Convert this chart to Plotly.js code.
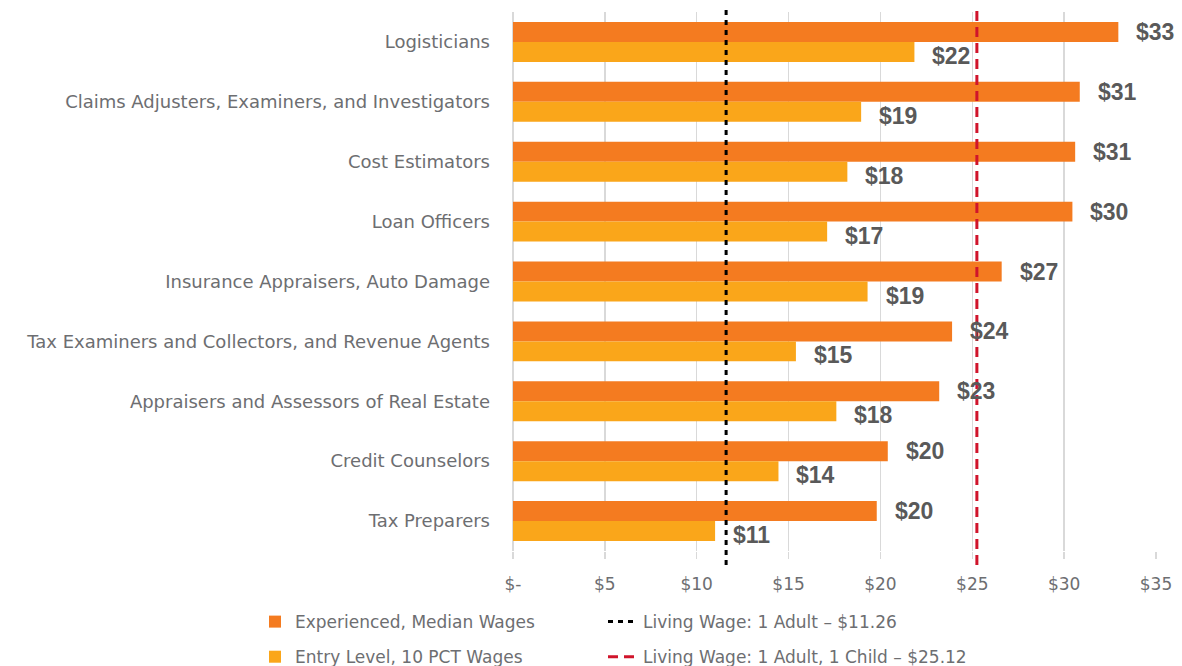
<!DOCTYPE html>
<html><head><meta charset="utf-8">
<script src="https://cdn.plot.ly/plotly-3.0.1.min.js"></script>
<style>html,body{margin:0;padding:0;background:#fff}#chart{width:1182px;height:666px}</style>
</head><body><div id="chart"></div>
<script>
const categories = [
  "Logisticians",
  "Claims Adjusters, Examiners, and Investigators",
  "Cost Estimators",
  "Loan Officers",
  "Insurance Appraisers, Auto Damage",
  "Tax Examiners and Collectors, and Revenue Agents",
  "Appraisers and Assessors of Real Estate",
  "Credit Counselors",
  "Tax Preparers"
];
const experienced = [32.95, 30.85, 30.6, 30.45, 26.6, 23.9, 23.2, 20.4, 19.8];
const entryLevel  = [21.85, 18.95, 18.2, 17.1, 19.3, 15.4, 17.6, 14.45, 11.0];
const seriesNames = ["Experienced, Median Wages", "Entry Level, 10 PCT Wages"];
const xTickVals = [0, 5, 10, 15, 20, 25, 30, 35];
const xTickLabels = ["$-", "$5", "$10", "$15", "$20", "$25", "$30", "$35"];
const livingWageNames = ["Living Wage: 1 Adult \u2013 $11.26", "Living Wage: 1 Adult, 1 Child \u2013 $25.12"];
const livingWageLinePos = [11.6, 25.25];

const ORANGE = "#F47B20", YELLOW = "#FAA61A", LABEL_GRAY = "#595959", TEXT_GRAY = "#6D6E71";
const FONT = "DejaVu Sans, sans-serif";
const LABEL_FONT = {family: "Liberation Sans, Arial, sans-serif", size: 23, color: LABEL_GRAY, weight: "bold"};

const traces = [
  {type: "bar", orientation: "h", y: categories, x: experienced, name: seriesNames[0],
   marker: {color: ORANGE}, legend: "legend", legendgroup: "a", hoverinfo: "skip"},
  {type: "bar", orientation: "h", y: categories, x: entryLevel, name: seriesNames[1],
   marker: {color: YELLOW}, legend: "legend", legendgroup: "b", hoverinfo: "skip"}
];

const fmt = v => "$" + Math.round(v);
const annotations = [];
categories.forEach((c, i) => {
  annotations.push({x: experienced[i], y: c, xref: "x", yref: "y", text: fmt(experienced[i]),
    showarrow: false, xanchor: "left", yanchor: "middle", xshift: 16, yshift: 10, font: LABEL_FONT});
  annotations.push({x: entryLevel[i], y: c, xref: "x", yref: "y", text: fmt(entryLevel[i]),
    showarrow: false, xanchor: "left", yanchor: "middle", xshift: 16, yshift: -14, font: LABEL_FONT});
});

const shapes = [
  {type: "line", xref: "x", yref: "paper", x0: livingWageLinePos[0], x1: livingWageLinePos[0], y0: -0.026, y1: 1.004,
   line: {color: "#000000", width: 3, dash: "5px,5px"}, showlegend: true, name: livingWageNames[0], legend: "legend2", legendgroup: "c"},
  {type: "line", xref: "x", yref: "paper", x0: livingWageLinePos[1], x1: livingWageLinePos[1], y0: -0.026, y1: 1.004,
   line: {color: "#D0142B", width: 3, dash: "10px,6px"}, showlegend: true, name: livingWageNames[1], legend: "legend2", legendgroup: "d"}
];

const PLOT_L = 513, PLOT_W = 1182 - 513 - 26;
const legendBase = {xref: "paper", yref: "container", xanchor: "left", yanchor: "top", y: 0.093,
  font: {family: FONT, size: 17, color: TEXT_GRAY}, bgcolor: "rgba(0,0,0,0)", tracegroupgap: 10, orientation: "v"};

const layout = {
  width: 1182, height: 666,
  margin: {l: PLOT_L, r: 26, t: 12, b: 115},
  paper_bgcolor: "#ffffff", plot_bgcolor: "#ffffff",
  font: {family: FONT, color: TEXT_GRAY},
  barmode: "group", bargap: 0.333, bargroupgap: 0,
  showlegend: true,
  xaxis: {range: [0, 35], tickvals: xTickVals, ticktext: xTickLabels, showgrid: true, gridcolor: "#D9D9D9",
    gridwidth: 1.5, zeroline: true, zerolinecolor: "#D9D9D9", zerolinewidth: 1.5, showline: false,
    ticks: "outside", ticklen: 7, tickcolor: "#D9D9D9",
    tickwidth: 1.5, tickfont: {family: FONT, size: 17, color: TEXT_GRAY}, ticklabelstandoff: 11, fixedrange: true},
  yaxis: {type: "category", categoryorder: "array", categoryarray: categories, autorange: "reversed",
    showgrid: false, zeroline: false, showline: false, ticks: "", ticklabelstandoff: 22,
    tickfont: {family: FONT, size: 18, color: TEXT_GRAY}, fixedrange: true},
  legend: Object.assign({}, legendBase, {x: (255 - PLOT_L) / PLOT_W}),
  legend2: Object.assign({}, legendBase, {x: (603 - PLOT_L) / PLOT_W}),
  annotations: annotations,
  shapes: shapes,
  hovermode: false
};

Plotly.newPlot("chart", traces, layout, {staticPlot: true, displayModeBar: false});
</script>
</body></html>
